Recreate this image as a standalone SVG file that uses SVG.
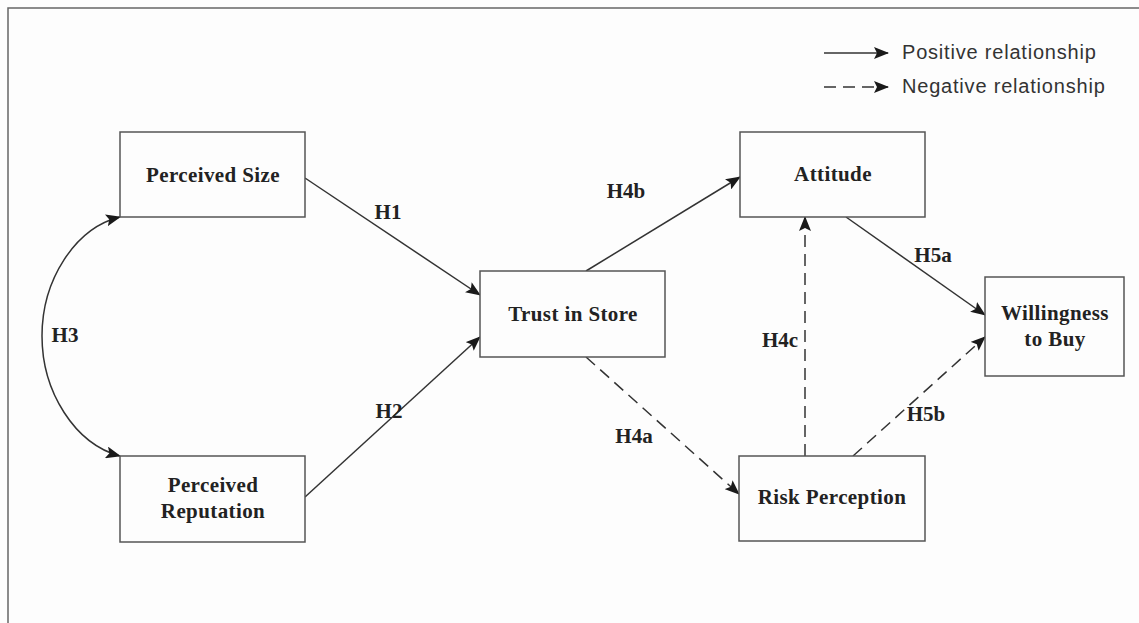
<svg xmlns="http://www.w3.org/2000/svg" width="1139" height="623" viewBox="0 0 1139 623">
  <defs>
    <marker id="arrow" viewBox="0 0 15 12" refX="14" refY="6" markerWidth="15" markerHeight="12" markerUnits="userSpaceOnUse" orient="auto-start-reverse">
      <path d="M0,0 L15,6 L0,12 L3,6 Z" fill="#1a1a1a"/>
    </marker>
  </defs>
  <style>
    .node rect { fill: #fdfdfd; stroke: #555; stroke-width: 1.5; }
    .node text { font-family: "Liberation Serif", "Times New Roman", serif; font-weight: bold; font-size: 21px; letter-spacing: 0.4px; fill: #222; text-anchor: middle; }
    .lbl { font-family: "Liberation Serif", "Times New Roman", serif; font-weight: bold; font-size: 21px; fill: #222; text-anchor: middle; }
    .edge { fill: none; stroke: #333; stroke-width: 1.5; marker-end: url(#arrow); }
    .neg { stroke-dasharray: 12 7; }
    .legend { font-family: "Liberation Sans", Arial, sans-serif; font-size: 20px; letter-spacing: 0.8px; fill: #333; }
  </style>

  <rect x="0" y="0" width="1139" height="623" fill="#fdfdfd"/>
  <!-- outer frame -->
  <path d="M8,623 L8,8 L1139,8" fill="none" stroke="#666" stroke-width="1.5"/>

  <!-- legend -->
  <g id="legend">
    <line class="edge" x1="824" y1="53" x2="888" y2="53"/>
    <text class="legend" x="902" y="59">Positive relationship</text>
    <line class="edge neg" x1="824" y1="87" x2="888" y2="87" stroke-dasharray="10 7"/>
    <text class="legend" x="902" y="93">Negative relationship</text>
  </g>

  <!-- connectors -->
  <g id="connectors">
    <line class="edge" x1="305" y1="178" x2="480" y2="295"/>
    <line class="edge" x1="305" y1="497" x2="480" y2="337"/>
    <path class="edge" style="marker-start:url(#arrow)" d="M120,217 C75,228 42,280 42,336 C42,392 75,444 120,456"/>
    <line class="edge" x1="586" y1="271" x2="740" y2="177"/>
    <line class="edge neg" x1="586" y1="357" x2="739" y2="494"/>
    <line class="edge neg" x1="805" y1="456" x2="805" y2="217"/>
    <line class="edge" x1="846" y1="217" x2="985" y2="315"/>
    <line class="edge neg" x1="853" y1="456" x2="985" y2="337"/>

    <text class="lbl" x="388" y="219">H1</text>
    <text class="lbl" x="389" y="418">H2</text>
    <text class="lbl" x="65" y="342">H3</text>
    <text class="lbl" x="626" y="198">H4b</text>
    <text class="lbl" x="634" y="443">H4a</text>
    <text class="lbl" x="780" y="347">H4c</text>
    <text class="lbl" x="933" y="262">H5a</text>
    <text class="lbl" x="926" y="421">H5b</text>
  </g>

  <!-- nodes -->
  <g id="perceived-size" class="node">
    <rect x="120" y="132" width="185" height="85"/>
    <text x="213" y="182">Perceived Size</text>
  </g>
  <g id="perceived-reputation" class="node">
    <rect x="120" y="456" width="185" height="86"/>
    <text x="213" y="492">Perceived</text>
    <text x="213" y="518">Reputation</text>
  </g>
  <g id="trust-in-store" class="node">
    <rect x="480" y="271" width="185" height="86"/>
    <text x="573" y="321">Trust in Store</text>
  </g>
  <g id="attitude" class="node">
    <rect x="740" y="132" width="185" height="85"/>
    <text x="833" y="181">Attitude</text>
  </g>
  <g id="risk-perception" class="node">
    <rect x="739" y="456" width="186" height="85"/>
    <text x="832" y="504">Risk Perception</text>
  </g>
  <g id="willingness-to-buy" class="node">
    <rect x="985" y="277" width="139" height="99"/>
    <text x="1055" y="320">Willingness</text>
    <text x="1055" y="346">to Buy</text>
  </g>
</svg>
